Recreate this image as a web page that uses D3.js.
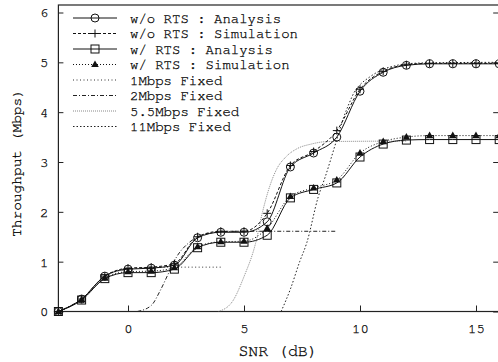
<!DOCTYPE html>
<html>
<head>
<meta charset="utf-8">
<script src="https://cdn.jsdelivr.net/npm/d3@7"></script>
<style>
  body { margin: 0; background: #fff; }
  text { font-family: "Nimbus Mono PS", "Nimbus Mono L", "FreeMono", "Courier New", Courier, "Liberation Mono", monospace; fill: #000; stroke: #000; stroke-width: 0.25px; }
</style>
</head>
<body>
<div id="chart"></div>
<script>
// SNR points used by the analysis / simulation curves
const snr = [-3, -2, -1, 0, 1, 2, 3, 4, 5, 6, 7, 8, 9, 10, 11, 12, 13, 14, 15, 16];
const woAnalysis = [0, 0.25, 0.71, 0.85, 0.87, 0.93, 1.48, 1.59, 1.59, 1.80, 2.90, 3.18, 3.50, 4.42, 4.80, 4.94, 4.97, 4.97, 4.97, 4.97];
const woSimulation = [0, 0.25, 0.71, 0.87, 0.89, 0.96, 1.50, 1.61, 1.61, 1.97, 2.93, 3.21, 3.63, 4.46, 4.82, 4.95, 4.98, 4.98, 4.98, 4.98];
const wAnalysis = [0, 0.23, 0.66, 0.78, 0.78, 0.85, 1.28, 1.39, 1.39, 1.53, 2.28, 2.45, 2.58, 3.10, 3.36, 3.44, 3.45, 3.45, 3.45, 3.45];
const wSimulation = [0, 0.24, 0.67, 0.80, 0.81, 0.88, 1.30, 1.40, 1.41, 1.67, 2.31, 2.48, 2.64, 3.18, 3.41, 3.50, 3.53, 3.53, 3.53, 3.53];

// fixed-rate curves
const fixed1Snr = [-3, -2, -1, 0, 1, 2, 3, 4];
const fixed1Tput = [0, 0.25, 0.70, 0.85, 0.88, 0.89, 0.89, 0.89];
const fixed2Snr = [0.4, 1, 1.4, 1.75, 2.1, 2.6, 3, 3.5, 4, 5, 9];
const fixed2Tput = [0, 0.12, 0.43, 0.77, 1.1, 1.37, 1.5, 1.57, 1.6, 1.61, 1.61];
const fixed55Snr = [3.9, 4.5, 5.0, 5.5, 5.8, 6.1, 6.4, 6.8, 7.3, 7.9, 8.6, 12];
const fixed55Tput = [0, 0.2, 0.7, 1.37, 2.0, 2.5, 2.85, 3.1, 3.27, 3.36, 3.41, 3.42];
const fixed11Snr = [6.6, 7.0, 7.4, 7.7, 8.2, 8.5, 9.0, 9.3, 9.5, 9.8, 10.0, 10.4, 10.9, 11.5, 12, 13, 16];
const fixed11Tput = [0, 0.45, 1.0, 1.37, 2.3, 2.7, 3.45, 3.9, 4.14, 4.44, 4.55, 4.7, 4.84, 4.93, 4.97, 4.99, 5.0];

const xTicks = [0, 5, 10, 15];
const yTicks = [0, 1, 2, 3, 4, 5, 6];

const width = 498;
const height = 362;
const plotLeft = 58.4, plotRight = 499.2, plotBottom = 311.5, plotTop = 5;
const fontStack = '"Nimbus Mono PS", "Nimbus Mono L", "FreeMono", "Courier New", Courier, "Liberation Mono", monospace';

const svg = d3.select("#chart")
    .append("svg")
    .attr("width", width)
    .attr("height", height);

const xScale = d3.scaleLinear().domain([-3, 16]).range([plotLeft, plotRight]);
const yScale = d3.scaleLinear().domain([0, 6]).range([plotBottom, 12.5]);

svg.append("defs").append("clipPath").attr("id", "plot")
    .append("rect")
    .attr("x", plotLeft).attr("y", plotTop)
    .attr("width", plotRight - plotLeft).attr("height", plotBottom - plotTop);

// axes (ticks inside, like the original)
const xAxis = svg.append("g")
    .attr("transform", `translate(0, ${plotBottom})`)
    .call(d3.axisBottom(xScale).tickValues(xTicks).tickFormat(d3.format("d"))
        .tickSizeInner(-6).tickSizeOuter(0).tickPadding(12));
const yAxis = svg.append("g")
    .attr("transform", `translate(${plotLeft}, 0)`)
    .call(d3.axisLeft(yScale).tickValues(yTicks).tickFormat(d3.format("d"))
        .tickSizeInner(-5).tickSizeOuter(0).tickPadding(10));
const yAxisRight = svg.append("g")
    .attr("transform", `translate(${plotRight}, 0)`)
    .call(d3.axisRight(yScale).tickValues(yTicks).tickSize(-6).tickFormat(""));

[xAxis, yAxis, yAxisRight].forEach(g => {
    g.select(".domain").remove();
    g.selectAll("line").attr("stroke", "#222");
    g.selectAll("text").style("font-size", "14px").style("font-family", fontStack).attr("fill", "#000");
});

// border
svg.append("rect")
    .attr("x", plotLeft).attr("y", plotTop)
    .attr("width", plotRight - plotLeft).attr("height", plotBottom - plotTop)
    .attr("fill", "none")
    .attr("stroke", "#222")
    .attr("stroke-width", 1.2);

// axis labels
svg.append("text")
    .attr("text-anchor", "middle")
    .attr("x", 278).attr("y", 356)
    .style("font-size", "16.5px")
    .text("SNR (dB)");

svg.append("text")
    .attr("text-anchor", "middle")
    .attr("transform", `translate(21, 163) rotate(-90)`)
    .style("font-size", "14.5px")
    .text("Throughput (Mbps)");

const line = d3.line()
    .curve(d3.curveMonotoneX)
    .x(d => xScale(d[0]))
    .y(d => yScale(d[1]));

const series = [
    { name: "w/o RTS : Analysis", xs: snr, ys: woAnalysis, dash: null, color: "#111", marker: "circle" },
    { name: "w/o RTS : Simulation", xs: snr, ys: woSimulation, dash: "3,2", color: "#111", marker: "plus" },
    { name: "w/ RTS : Analysis", xs: snr, ys: wAnalysis, dash: null, color: "#111", marker: "square" },
    { name: "w/ RTS : Simulation", xs: snr, ys: wSimulation, dash: "1,2", color: "#111", marker: "triangle" },
    { name: "1Mbps Fixed", xs: fixed1Snr, ys: fixed1Tput, dash: "1,2.5", color: "#333", marker: null },
    { name: "2Mbps Fixed", xs: fixed2Snr, ys: fixed2Tput, dash: "4,2,1,2", color: "#222", marker: null },
    { name: "5.5Mbps Fixed", xs: fixed55Snr, ys: fixed55Tput, dash: "1,1", color: "#888", marker: null },
    { name: "11Mbps Fixed", xs: fixed11Snr, ys: fixed11Tput, dash: "1.5,2", color: "#222", marker: null }
];

const plot = svg.append("g").attr("clip-path", "url(#plot)");

// fixed rate curves first, then the main curves on top
series.slice(4).concat(series.slice(0, 4)).forEach(s => {
    plot.append("path")
        .datum(s.xs.map((x, i) => [x, s.ys[i]]))
        .attr("d", line)
        .attr("fill", "none")
        .attr("stroke", s.color)
        .attr("stroke-width", 1)
        .attr("stroke-dasharray", s.dash);
});

function drawMarker(g, type, cx, cy) {
    if (type === "circle") {
        g.append("circle").attr("cx", cx).attr("cy", cy).attr("r", 4)
            .attr("fill", "none").attr("stroke", "#111").attr("stroke-width", 1);
    } else if (type === "square") {
        g.append("rect").attr("x", cx - 4).attr("y", cy - 4).attr("width", 8).attr("height", 8)
            .attr("fill", "none").attr("stroke", "#111").attr("stroke-width", 1);
    } else if (type === "plus") {
        g.append("path").attr("d", `M${cx - 4},${cy}H${cx + 4}M${cx},${cy - 4}V${cy + 4}`)
            .attr("stroke", "#111").attr("stroke-width", 1);
    } else if (type === "triangle") {
        g.append("path").attr("d", `M${cx},${cy - 4}L${cx + 3.8},${cy + 2.6}L${cx - 3.8},${cy + 2.6}Z`)
            .attr("fill", "#111");
    }
}

const markers = svg.append("g");
series.slice(0, 4).forEach(s => {
    s.xs.forEach((x, i) => drawMarker(markers, s.marker, xScale(x), yScale(s.ys[i])));
});

// legend
const legend = svg.append("g");
series.forEach((s, i) => {
    const y = 18 + i * 15.5;
    legend.append("line")
        .attr("x1", 73).attr("x2", 117)
        .attr("y1", y).attr("y2", y)
        .attr("stroke", s.color)
        .attr("stroke-width", 1)
        .attr("stroke-dasharray", s.dash);
    if (s.marker) drawMarker(legend, s.marker, 95, y);
    legend.append("text")
        .attr("x", 130).attr("y", y + 4.5)
        .style("font-size", "14px")
        .text(s.name);
});
</script>
</body>
</html>
